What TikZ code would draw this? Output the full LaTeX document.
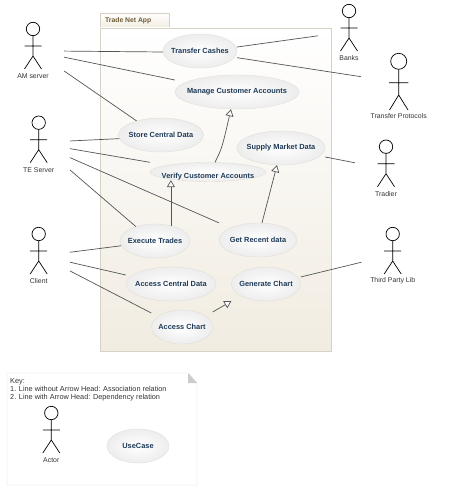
\documentclass[tikz,border=0pt]{standalone}
\usepackage{fontspec}
\setmainfont{Liberation Sans}
\usetikzlibrary{shapes.geometric, arrows.meta, positioning, calc}
\definecolor{pkgline}{RGB}{216, 210, 196}
\definecolor{pkgfill}{RGB}{241, 236, 225}
\definecolor{usetext}{RGB}{30, 58, 88}
\definecolor{tabtext}{RGB}{110, 92, 50}
\definecolor{linkgray}{RGB}{85, 85, 85}
\definecolor{caseline}{RGB}{226, 223, 216}
\tikzset{
  usecase/.style={ellipse, draw=caseline, inner color=white, outer color=black!7, inner sep=0pt, minimum height=34pt, text=usetext, font=\fontsize{7.4}{9}\selectfont\bfseries},
  actorbox/.style={rectangle, inner sep=0pt, minimum width=62pt, minimum height=62pt},
  actorlabel/.style={font=\fontsize{6.9}{8}\selectfont, text=black!80, inner sep=0pt},
  assoc/.style={draw=linkgray, line width=0.7pt},
  depend/.style={assoc, -{Triangle[open, length=7pt, width=8pt, fill=white]}}
}
% text of a use case must not widen its ellipse
\newcommand{\uc}[1]{\makebox[0pt]{\raisebox{-1pt}{#1}}}
% stick figure around a free box: name, x, y of the head, label
\newcommand{\actorfig}[4]{
  \node[actorbox] (#1) at (#2, #3+21) {};
  \draw[line width=0.7pt] (#2, #3) circle (6.7pt);
  \draw[line width=0.7pt] (#2, #3+6.7) -- (#2, #3+27) -- +(-8.5, 13) (#2, #3+27) -- +(8.5, 13) (#2-8.5, #3+17) -- (#2+8.5, #3+17);
  \node[actorlabel] (#1label) at (#2, #3+47) {#4};
}
\begin{document}
\begin{tikzpicture}[x=1pt, y=-1pt]
  \useasboundingbox (0,0) rectangle (448,497);

  % package
  \node[draw=pkgline, top color=white, bottom color=pkgfill, rectangle, inner sep=0pt, minimum width=69pt, minimum height=15pt] (tab) at (134.5,21) {};
  \node[font=\fontsize{6.8}{8}\selectfont\bfseries, text=tabtext, inner sep=0pt, anchor=west] (tabname) at (105,21) {Trade Net App};
  \node[draw=pkgline, line width=0.8pt, top color=white, bottom color=pkgfill, rectangle, inner sep=0pt, minimum width=231pt, minimum height=323pt] (pkg) at (215.5,189.5) {};

  % use cases
  \node[usecase, minimum width=74pt] (transfer) at (200,51) {\uc{Transfer Cashes}};
  \node[usecase, minimum width=124pt] (manage) at (237,92) {\uc{Manage Customer Accounts}};
  \node[usecase, minimum width=85pt] (store) at (161,135) {\uc{Store Central Data}};
  \node[usecase, minimum width=88pt] (supply) at (281,148) {\uc{Supply Market Data}};
  \node[usecase, minimum width=116pt, minimum height=19pt] (verify) at (208,172) {};
  \node[font=\fontsize{7.4}{9}\selectfont\bfseries, text=usetext, inner sep=0pt] (verifytext) at (208,176.5) {Verify Customer Accounts};
  \node[usecase, minimum width=70pt] (execute) at (155,241) {\uc{Execute Trades}};
  \node[usecase, minimum width=78pt] (recent) at (258,240) {\uc{Get Recent data}};
  \node[usecase, minimum width=90pt] (central) at (171,284) {\uc{Access Central Data}};
  \node[usecase, minimum width=69pt] (generate) at (266,284) {\uc{Generate Chart}};
  \node[usecase, minimum width=61pt] (chart) at (182,327) {\uc{Access Chart}};

  % actors
  \actorfig{amserver}{33}{29}{AM server}
  \actorfig{teserver}{38.7}{122.7}{TE Server}
  \actorfig{client}{38.7}{234}{Client}
  \actorfig{banks}{349}{11}{Banks}
  \actorfig{tradier}{386}{146.7}{Tradier}
  \actorfig{thirdparty}{392.7}{234}{Third Party Lib}
  % this one is drawn larger
  \node[actorbox, minimum width=75pt] (protocols) at (398.7,82) {};
  \draw[line width=0.7pt] (398.7,61.3) circle (8pt);
  \draw[line width=0.7pt] (398.7,69.3) -- (398.7,95) -- (389.5,110) (398.7,95) -- (408,110) (389,82.7) -- (408.4,82.7);
  \node[actorlabel] (protocolslabel) at (398.7,116) {Transfer Protocols};

  % associations
  \draw[assoc] (amserver.-2) -- ($(transfer.west)+(0,1)$);
  \draw[assoc] (amserver.-13) -- ($(manage.west)+(0,-12)$);
  \draw[assoc] (amserver.-34) -- (store.150);
  \draw[assoc] (teserver.5) -- (store.185);
  \draw[assoc] (teserver.-9) -- (verify.west |- verify.north);
  \draw[assoc] (teserver.-24) -- (recent.west |- recent.north);
  \draw[assoc] (teserver.-40) -- (execute.143);
  \draw[assoc] (client.5) -- (execute.188);
  \draw[assoc] (client.-13) -- ($(central.west)+(0,-9)$);
  \draw[assoc] (client.-27) -- ($(chart.west)+(0,-14)$);
  \draw[assoc] ($(transfer.east)+(0,-4)$) -- (banks.187);
  \draw[assoc] ($(transfer.east)+(0,6.7)$) -- (protocols.172);
  \draw[assoc] ($(supply.east)+(0,9)$) -- (tradier.171);
  \draw[assoc] ($(generate.east)+(0,-7)$) -- (thirdparty.193);

  % dependencies
  \draw[depend] ($(verify.north)+(7,0)$) .. controls (222,148) .. ($(manage.south)+(-6,0)$);
  \draw[depend] (execute.44) -- (execute.44 |- verifytext.south);
  \draw[depend] ($(recent.north)+(4,0)$) -- ($(supply.south)+(-4,0)$);
  \draw[depend] ($(chart.east)+(0,-15)$) -- (generate.west |- generate.south);

  % key
  \draw[draw=black!15, fill=white] (7,373) -- (188,373) -- (197,383) -- (197,485) -- (7,485) -- cycle;
  \fill[black!20] (188,373) -- (197,383) -- (188,383) -- cycle;
  \node[font=\fontsize{7.3}{7.8}\selectfont, text=black!80, align=left, anchor=north west, inner sep=0pt] (keytext) at (10,378.5) {Key:\\ 1. Line without Arrow Head: Association relation\\ 2. Line with Arrow Head: Dependency relation};
  \actorfig{keyactor}{51.3}{413}{Actor}
  \node[usecase, minimum width=62pt] (keycase) at (138,446) {\uc{UseCase}};
\end{tikzpicture}
\end{document}
